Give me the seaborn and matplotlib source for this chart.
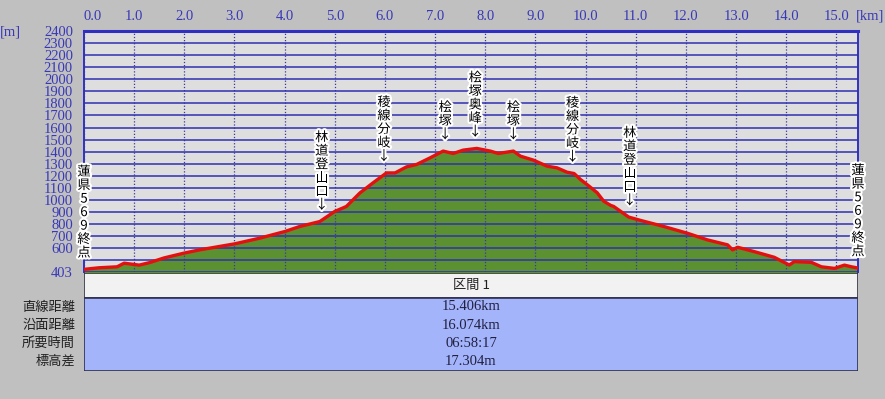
import matplotlib
matplotlib.use("Agg")
import matplotlib.pyplot as plt
import matplotlib.patheffects as pe
import seaborn as sns
import pandas as pd

# profile (km, m)
km = [0.0, 0.3, 0.66, 0.8, 1.1, 1.3, 1.6, 2.0, 2.3, 3.0, 3.5, 4.0, 4.3, 4.7,
      5.0, 5.23, 5.5, 5.76, 6.03, 6.2, 6.43, 6.63, 6.9, 7.16, 7.36, 7.56, 7.83,
      8.1, 8.26, 8.56, 8.7, 8.96, 9.23, 9.43, 9.63, 9.77, 9.9, 10.03, 10.23,
      10.36, 10.5, 10.56, 10.86, 11.1, 11.56, 12.03, 12.43, 12.83, 12.93, 13.03,
      13.36, 13.76, 14.06, 14.16, 14.5, 14.7, 14.96, 15.16, 15.3, 15.43]
elev = [425, 438, 446, 476, 460, 480, 520, 560, 586, 636, 683, 738, 780, 821,
        905, 946, 1058, 1141, 1224, 1224, 1274, 1294, 1349, 1405, 1385, 1413, 1427,
        1405, 1385, 1405, 1363, 1330, 1280, 1266, 1230, 1219, 1169, 1127, 1060,
        990, 955, 946, 858, 830, 780, 724, 669, 628, 586, 608,
        572, 525, 461, 489, 483, 446, 433, 460, 446, 436]

# waypoints
wp_km = [0.0, 4.74, 5.98, 7.2, 7.8, 8.56, 9.74, 10.88, 15.43]
wp_elev = [425, 821, 1224, 1405, 1427, 1405, 1219, 858, 436]
wp_name = ["蓮県569終点", "林道登山口↓", "稜線分岐↓", "桧塚↓", "桧塚奥峰↓",
           "桧塚↓", "稜線分岐↓", "林道登山口↓", "蓮県569終点"]

x_ticks = list(range(0, 16))
y_ticks = [403] + list(range(500, 2401, 100))
y_ticklabels = ["403", ""] + [str(v) for v in range(600, 2401, 100)]

row_names = ["直線距離", "沿面距離", "所要時間", "標高差"]
row_values = ["15.406km", "16.074km", "06:58:17", "17.304m"]
section_name = "区間 1"

df = pd.DataFrame({"km": km, "elev": elev})

W, H = 885, 399
fig = plt.figure(figsize=(W / 100, H / 100), dpi=100)
fig.patch.set_facecolor("#c0c0c0")

blue = "#3838b8"
ax = fig.add_axes([84 / W, 1 - 272 / H, (858 - 84) / W, (272 - 31) / H])
ax.set_facecolor("#dedede")

ax.fill_between(df["km"], 403, df["elev"] - 8, color="#5b9131", zorder=2)
sns.lineplot(data=df, x="km", y="elev", color="#e41010", lw=2.4, ax=ax,
             zorder=4)

ax.set_xlim(0, 15.43)
ax.set_ylim(403, 2400)
ax.set_xlabel("")
ax.set_ylabel("")

ax.xaxis.tick_top()
ax.set_xticks(x_ticks)
ax.set_xticklabels([f"{v:.1f}" for v in x_ticks], family="Liberation Serif",
                   fontsize=10.5, color=blue)
ax.get_xticklabels()[0].set_horizontalalignment("left")
ax.set_yticks(y_ticks)
ax.set_yticklabels(y_ticklabels, family="Liberation Serif", fontsize=10.5,
                   color=blue, linespacing=0.8)
ax.tick_params(axis="x", length=0, pad=6)
ax.tick_params(axis="y", length=0, pad=8)
ax.yaxis.grid(True, color="#3030b0", lw=1.1, zorder=3)
ax.xaxis.grid(True, color="#3a3a9a", lw=0.9, ls=(0, (1, 1.5)), zorder=3)
ax.set_axisbelow(False)
for s in ["top", "left", "right"]:
    ax.spines[s].set_color("#3030c8")
ax.spines["top"].set_linewidth(2.2)
ax.spines["left"].set_linewidth(1.4)
ax.spines["right"].set_linewidth(1.4)
ax.spines["bottom"].set_visible(False)

for k, e, name in zip(wp_km, wp_elev, wp_name):
    ax.annotate("\n".join(name), (k, e), xytext=(0, 7), textcoords="offset points",
                ha="center", va="bottom", fontsize=9.5, family="Noto Sans CJK JP",
                linespacing=1.05, color="black", zorder=6, annotation_clip=False,
                path_effects=[pe.withStroke(linewidth=3, foreground="white")])

fig.text(10 / W, 1 - 32 / H, "[m]", ha="center", va="center", color=blue,
         family="Liberation Serif", fontsize=10.5)
fig.text(870 / W, 1 - 16 / H, "[km]", ha="center", va="center", color=blue,
         family="Liberation Serif", fontsize=10.5)

# section table
tb = fig.add_axes([84 / W, 1 - 371 / H, (858 - 84) / W, (371 - 273) / H])
tb.set_xlim(0, 1)
tb.set_ylim(98, 0)
tb.axis("off")
tb.add_patch(plt.Rectangle((0, 0), 1, 25, facecolor="#f2f2f2",
                           edgecolor="#303040", lw=1.2))
tb.add_patch(plt.Rectangle((0, 25), 1, 73, facecolor="#a4b4fb",
                           edgecolor="#303050", lw=1.2))
tb.text(0.5, 12.5, section_name, ha="center", va="center",
        family="Noto Sans CJK JP", fontsize=9.5, color="#202020")
for i, (name, val) in enumerate(zip(row_names, row_values)):
    yy = 34 + i * 18.2
    tb.text(0.5, yy, val, ha="center", va="center", family="Liberation Serif",
            fontsize=10.5, color="#202040")
    fig.text(75 / W, 1 - (273 + yy) / H, name, ha="right", va="center",
             family="Noto Sans CJK JP", fontsize=9.5, color="#202020")

fig.savefig("out.png", dpi=100, facecolor=fig.get_facecolor())
